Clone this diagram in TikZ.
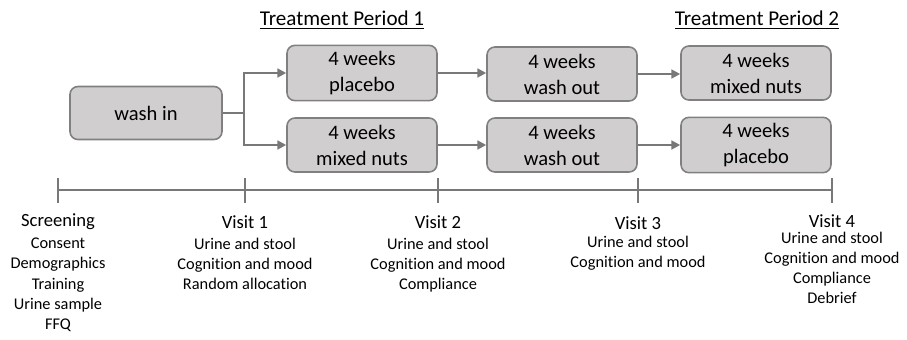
\documentclass[tikz,border=0pt]{standalone}
\usepackage{fontspec}
\setmainfont{Carlito}[Ligatures=NoCommon]
\usepackage{tikz}
\usetikzlibrary{calc,arrows.meta}

\definecolor{boxfill}{RGB}{208,206,206}
\definecolor{boxline}{RGB}{128,128,128}
\definecolor{linegray}{RGB}{120,120,120}

\tikzset{
  period/.style={draw=boxline, fill=boxfill, line width=0.9pt, rounded corners=4.5pt,
    minimum width=3cm, minimum height=1.08cm, align=center,
    font=\fontsize{11.7}{14.8}\selectfont},
  flow/.style={draw=linegray, line width=1.2pt, -{Triangle[length=5pt,width=5pt]}},
  visit/.style={font=\fontsize{10.6}{12}\selectfont},
  tasks/.style={align=center, anchor=north, inner sep=0pt,
    font=\fontsize{9.3}{11.4}\selectfont},
}

\begin{document}
\begin{tikzpicture}[x=0.02cm,y=-0.02cm]
  \useasboundingbox (0,0) rectangle (907,339);

  %% Period headings
  \node[font=\fontsize{12}{14}\selectfont] (TP1) at (342,20) {\underline{Treatment Period 1}};
  \node[font=\fontsize{12}{14}\selectfont] (TP2) at (757,20) {\underline{Treatment Period 2}};

  %% Boxes of the two arms
  \node[period, minimum width=3.04cm, minimum height=1.06cm] (WASHIN) at (146,113) {wash in};
  \node[period] (P1A) at (362,73)  {4 weeks\\placebo};
  \node[period] (P1B) at (362,145) {4 weeks\\mixed nuts};
  \node[period] (WOA) at (562,74)  {4 weeks\\wash out};
  \node[period] (WOB) at (562,145) {4 weeks\\wash out};
  \node[period] (P2A) at (756,73)  {4 weeks\\mixed nuts};
  \node[period] (P2B) at (756,145) {4 weeks\\placebo};

  %% Randomisation split
  \coordinate (SPLIT) at (244,113);
  \draw[draw=linegray, line width=1.2pt] (WASHIN.east) -- (SPLIT);
  \draw[flow] (SPLIT) |- (P1A.west);
  \draw[flow] (SPLIT) |- (P1B.west);

  \foreach \a/\b in {P1A/WOA,P1B/WOB,WOA/P2A,WOB/P2B}
  {
    \draw[flow] (\a.east) -- (\b.west|-\a.east);
  }

  %% Time line with visits
  \foreach \x/\n in {58/0,245/1,438/2,638/3,832/4}
  {
    \coordinate (T\n) at (\x,190);
    \draw[draw=linegray, line width=1.5pt] ($(T\n)+(0,-12)$) -- ($(T\n)+(0,13)$);
  }
  \draw[draw=linegray, line width=1.5pt] (T0) -- (T4);

  \node[visit] (V0) at ($(T0)+(0,32)$) {Screening};
  \node[visit] (V1) at ($(T1)+(0,32)$) {Visit 1};
  \node[visit] (V2) at ($(T2)+(0,32)$) {Visit 2};
  \node[visit] (V3) at ($(T3)+(0,33)$) {Visit 3};
  \node[visit] (V4) at ($(T4)+(0,31)$) {Visit 4};

  \node[tasks] (L0) at ($(T0)+(0,48)$) {Consent\\Demographics\\Training\\Urine sample\\FFQ};
  \node[tasks] (L1) at ($(T1)+(0,48)$) {Urine and stool\\Cognition and mood\\Random allocation};
  \node[tasks] (L2) at ($(T2)+(0,48)$) {Urine and stool\\Cognition and mood\\Compliance};
  \node[tasks] (L3) at ($(T3)+(0,46)$) {Urine and stool\\Cognition and mood};
  \node[tasks] (L4) at ($(T4)+(0,42)$) {Urine and stool\\Cognition and mood\\Compliance\\Debrief};
\end{tikzpicture}
\end{document}
